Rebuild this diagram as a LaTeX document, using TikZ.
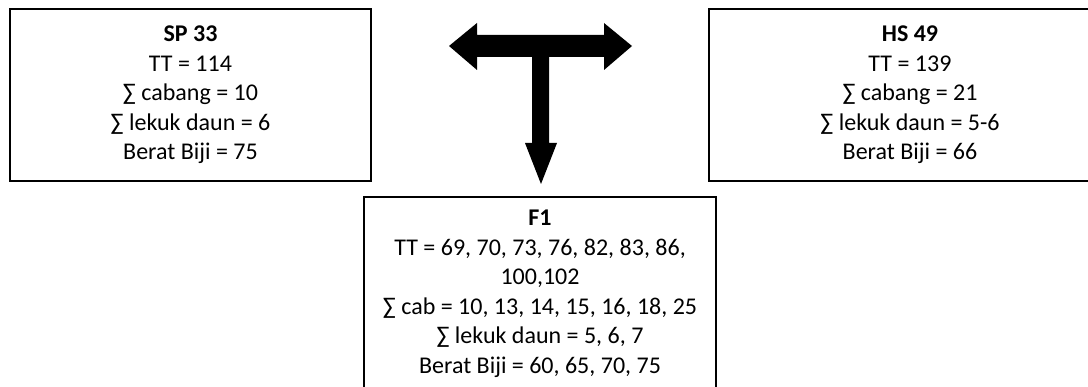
\documentclass[tikz,border=0pt]{standalone}
\usepackage{fontspec}
\setmainfont{Carlito}
\begin{document}
\begin{tikzpicture}[x=1pt,y=-1pt,
  box/.style={draw, line width=1.6pt, align=center, inner sep=0pt,
    font=\fontsize{24}{29.5}\selectfont},
  bigarrow/.style={fill=black, draw=none}]
\useasboundingbox (0,0) rectangle (1088,387);
\node[box, minimum width=361pt, minimum height=172pt] (sp) at (190.5,95)
  {\textbf{SP 33}\\TT = 114\\∑ cabang = 10\\∑ lekuk daun = 6\\Berat Biji = 75};
\node[box, minimum width=402pt, minimum height=172pt] (hs) at (910,95)
  {\textbf{HS 49}\\TT = 139\\∑ cabang = 21\\∑ lekuk daun = 5-6\\Berat Biji = 66};
\node[box, minimum width=352pt, minimum height=194pt] (f1) at (540,294)
  {\textbf{F1}\\TT = 69, 70, 73, 76, 82, 83, 86,\\100,102\\∑ cab = 10, 13, 14, 15, 16, 18, 25\\∑ lekuk daun = 5, 6, 7\\Berat Biji = 60, 65, 70, 75};
\fill[bigarrow] (449,46) -- (477,23) -- (477,35) -- (604,35) -- (604,23) -- (632,46)
  -- (604,70) -- (604,57) -- (549,57) -- (549,143) -- (557,143) -- (541,184)
  -- (525,143) -- (532,143) -- (532,57) -- (477,57) -- (477,70) -- cycle;
\end{tikzpicture}
\end{document}
